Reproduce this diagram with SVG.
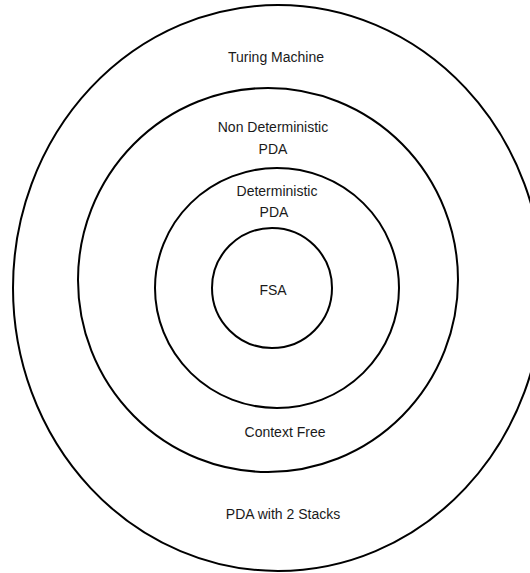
<svg xmlns="http://www.w3.org/2000/svg" width="530" height="573" viewBox="0 0 530 573">
<style>
.ring{fill:none;stroke:#000;stroke-width:2}
.lbl{font-family:"Liberation Sans",Arial,sans-serif;font-size:14px;fill:#1a1a1a;text-anchor:middle}
</style>
<rect width="530" height="573" fill="#fff"/>
<g id="turing">
<ellipse class="ring" cx="278" cy="288" rx="265" ry="283"/>
<text class="lbl" x="276" y="62">Turing Machine</text>
<text class="lbl" x="283" y="519">PDA with 2 Stacks</text>
</g>
<g id="ndpda">
<ellipse class="ring" cx="268" cy="280" rx="190" ry="192"/>
<text class="lbl" x="273" y="132">Non Deterministic</text>
<text class="lbl" x="273" y="154">PDA</text>
<text class="lbl" x="285" y="437">Context Free</text>
</g>
<g id="dpda">
<ellipse class="ring" cx="277" cy="288" rx="122" ry="120"/>
<text class="lbl" x="277" y="196">Deterministic</text>
<text class="lbl" x="274" y="217">PDA</text>
</g>
<g id="fsa">
<circle class="ring" cx="272" cy="288" r="60"/>
<text class="lbl" x="273" y="295">FSA</text>
</g>
<g id="connectors"/>
</svg>
